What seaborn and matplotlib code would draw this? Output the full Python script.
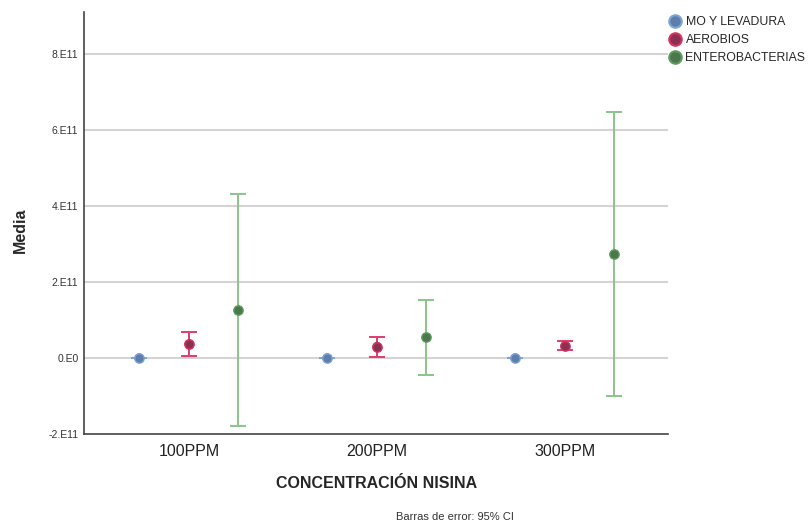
import matplotlib
matplotlib.use("Agg")
import matplotlib.pyplot as plt
import seaborn as sns
import pandas as pd
import numpy as np
from matplotlib.lines import Line2D

categories = ["100PPM", "200PPM", "300PPM"]
series = ["MO Y LEVADURA", "AEROBIOS", "ENTEROBACTERIAS"]

mo_mean = [0.0, 0.0, 0.0]
mo_lo = [-1.0e9, -1.0e9, -1.0e9]
mo_hi = [1.0e9, 1.0e9, 1.0e9]

aer_mean = [3.7e10, 3.0e10, 3.2e10]
aer_lo = [0.6e10, 0.3e10, 2.1e10]
aer_hi = [6.8e10, 5.5e10, 4.4e10]

ent_mean = [1.255e11, 5.4e10, 2.73e11]
ent_lo = [-1.79e11, -4.5e10, -1.0e11]
ent_hi = [4.3e11, 1.52e11, 6.46e11]

ytick_vals = [-2e11, 0, 2e11, 4e11, 6e11, 8e11]
ytick_labels = ["-2.E11", "0.E0", "2.E11", "4.E11", "6.E11", "8.E11"]

rows = []
for s, m, lo, hi in zip(series, [mo_mean, aer_mean, ent_mean],
                        [mo_lo, aer_lo, ent_lo], [mo_hi, aer_hi, ent_hi]):
    for i, c in enumerate(categories):
        rows.append(dict(cat=c, idx=i, serie=s, mean=m[i], lo=lo[i], hi=hi[i]))
df = pd.DataFrame(rows)

offsets = {"MO Y LEVADURA": -0.266, "AEROBIOS": 0.0, "ENTEROBACTERIAS": 0.262}
fills = {"MO Y LEVADURA": "#5d7eab", "AEROBIOS": "#8a3152", "ENTEROBACTERIAS": "#4c764c"}
edges = {"MO Y LEVADURA": "#7ea3d8", "AEROBIOS": "#d9305f", "ENTEROBACTERIAS": "#5f9a5f"}
errc = {"MO Y LEVADURA": "#7ea3d8", "AEROBIOS": "#e03c6a", "ENTEROBACTERIAS": "#8cc48a"}
df["x"] = df["idx"] + df["serie"].map(offsets)

sns.set_theme(style="white")
plt.rcParams["font.family"] = ["Liberation Sans", "DejaVu Sans"]

fig = plt.figure(figsize=(8.09, 5.23), dpi=100)
ax = fig.add_axes([84/809, 1-434/523, (668-84)/809, (434-12)/523])

for y in ytick_vals[1:]:
    ax.axhline(y, color="#d4d4d4", lw=1.5, zorder=0)

for s in series:
    d = df[df["serie"] == s]
    ax.errorbar(d["x"], d["mean"], yerr=[d["mean"]-d["lo"], d["hi"]-d["mean"]],
                fmt="none", ecolor=errc[s], elinewidth=1.4, capsize=6, capthick=1.4, zorder=2)

sns.scatterplot(data=df, x="x", y="mean", hue="serie", palette=fills, ax=ax,
                s=45, edgecolor=None, linewidth=0, legend=False, zorder=3)
for s in series:
    d = df[df["serie"] == s]
    ax.scatter(d["x"], d["mean"], s=45, facecolor=fills[s], edgecolor=edges[s],
               linewidth=1.0, zorder=4)

ax.set_xlim(-0.559, 2.548)
ax.set_ylim(-2e11, 9.1e11)
ax.set_xticks(range(len(categories)))
ax.set_xticklabels(categories, fontsize=11.5, color="#222222")
ax.set_yticks(ytick_vals)
ax.set_yticklabels(ytick_labels, fontsize=7.5, color="#333333")
ax.tick_params(axis="both", length=0, pad=4)
ax.tick_params(axis="x", pad=7)

for sp in ["top", "right"]:
    ax.spines[sp].set_visible(False)
for sp in ["left", "bottom"]:
    ax.spines[sp].set_color("#444444")
    ax.spines[sp].set_linewidth(1.2)

ax.set_xlabel("CONCENTRACIÓN NISINA", fontsize=11.5, fontweight="bold")
ax.xaxis.set_label_coords((377-84)/584, (434-483)/422)
ax.set_ylabel("Media", fontsize=11.5, fontweight="bold")
ax.yaxis.set_label_coords((20-84)/584, (434-230)/422)
ax.yaxis.label.set_va("center")
ax.xaxis.label.set_va("center")

handles = [Line2D([0], [0], marker="o", linestyle="none", markersize=9,
                  markerfacecolor="#6e6e6e", markeredgecolor=edges[s], markeredgewidth=1.5)
           for s in series]
for h, s in zip(handles, series):
    h.set_markerfacecolor(fills[s])
fig.legend(handles, series, loc="upper left", bbox_to_anchor=(669/809, 1-16/523),
           frameon=False, fontsize=8.8, handletextpad=0.35, labelspacing=0.5,
           borderaxespad=0, borderpad=0, handlelength=1.0)

fig.text(455/809, 1-517/523, "Barras de error: 95% CI", ha="center", va="center",
         fontsize=8, color="#333333")

fig.savefig("out.png", dpi=100)
